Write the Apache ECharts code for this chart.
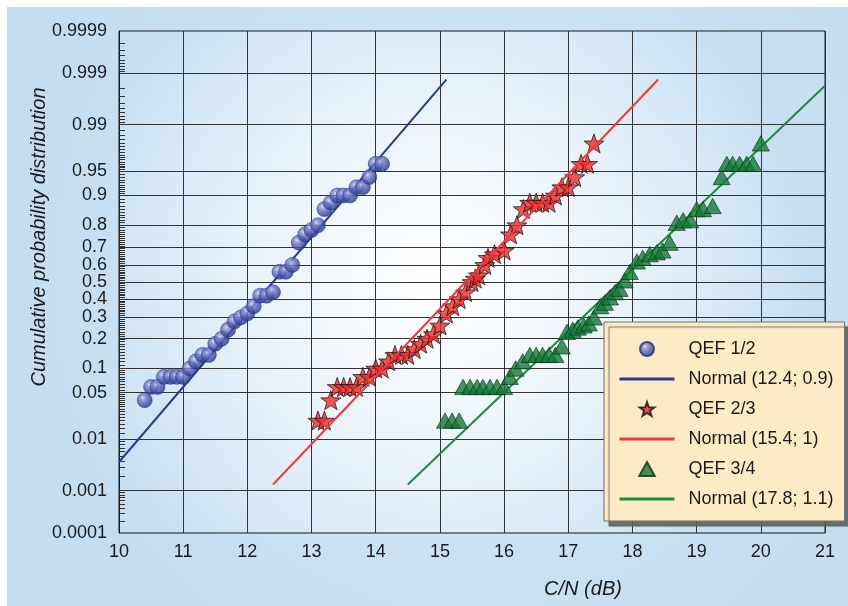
<!DOCTYPE html>
<html>
<head>
<meta charset="utf-8">
<script src="https://cdn.jsdelivr.net/npm/echarts@6/dist/echarts.min.js"></script>
<style>
html, body { margin: 0; padding: 0; background: #fff; }
#chart { width: 848px; height: 606px; }
</style>
</head>
<body>
<div id="chart"></div>
<script>
// y tick marks (probabilities) and their labels
var probTicks = [0.0001, 0.001, 0.01, 0.05, 0.1, 0.2, 0.3, 0.4, 0.5, 0.6, 0.7, 0.8, 0.9, 0.95, 0.99, 0.999, 0.9999];
var probLabels = ['0.0001', '0.001', '0.01', '0.05', '0.1', '0.2', '0.3', '0.4', '0.5', '0.6', '0.7', '0.8', '0.9', '0.95', '0.99', '0.999', '0.9999'];
var cnTicks = [10, 11, 12, 13, 14, 15, 16, 17, 18, 19, 20, 21];

// measured points: C/N (dB) and cumulative probability
var qef12CN = [10.4, 10.5, 10.6, 10.7, 10.8, 10.9, 11.0, 11.1, 11.2, 11.3, 11.4, 11.5, 11.6, 11.7, 11.8, 11.9, 12.0, 12.1, 12.2, 12.3, 12.4, 12.5, 12.6, 12.7, 12.8, 12.9, 13.0, 13.1, 13.2, 13.3, 13.4, 13.5, 13.6, 13.7, 13.8, 13.9, 14.0, 14.1];
var qef12Prob = [0.04, 0.06, 0.06, 0.08, 0.08, 0.08, 0.08, 0.10, 0.12, 0.14, 0.14, 0.18, 0.20, 0.24, 0.28, 0.30, 0.32, 0.36, 0.42, 0.42, 0.44, 0.56, 0.56, 0.60, 0.72, 0.76, 0.78, 0.80, 0.86, 0.88, 0.90, 0.90, 0.90, 0.92, 0.92, 0.94, 0.96, 0.96];

var qef23CN = [13.1, 13.2, 13.3, 13.4, 13.5, 13.6, 13.7, 13.8, 13.9, 14.0, 14.1, 14.2, 14.3, 14.4, 14.5, 14.6, 14.7, 14.8, 14.9, 15.0, 15.1, 15.2, 15.3, 15.4, 15.5, 15.55, 15.6, 15.7, 15.75, 15.85, 16.0, 16.1, 16.2, 16.3, 16.4, 16.5, 16.6, 16.7, 16.8, 16.9, 17.0, 17.1, 17.2, 17.3, 17.4];
var qef23Prob = [0.02, 0.02, 0.04, 0.06, 0.06, 0.06, 0.06, 0.08, 0.08, 0.10, 0.10, 0.12, 0.14, 0.14, 0.14, 0.16, 0.18, 0.20, 0.22, 0.26, 0.32, 0.36, 0.40, 0.44, 0.50, 0.52, 0.54, 0.60, 0.64, 0.66, 0.68, 0.76, 0.80, 0.86, 0.88, 0.88, 0.88, 0.88, 0.90, 0.92, 0.92, 0.94, 0.96, 0.96, 0.98];

var qef34CN = [15.08, 15.19, 15.3, 15.36, 15.47, 15.58, 15.67, 15.78, 15.89, 16.0, 16.09, 16.18, 16.29, 16.4, 16.5, 16.6, 16.7, 16.8, 16.9, 16.98, 17.07, 17.15, 17.24, 17.32, 17.4, 17.5, 17.57, 17.65, 17.73, 17.8, 17.88, 17.96, 18.07, 18.16, 18.27, 18.38, 18.47, 18.58, 18.69, 18.79, 18.9, 19.0, 19.1, 19.25, 19.39, 19.47, 19.56, 19.67, 19.78, 19.88, 20.0];
var qef34Prob = [0.02, 0.02, 0.02, 0.06, 0.06, 0.06, 0.06, 0.06, 0.06, 0.06, 0.08, 0.10, 0.12, 0.14, 0.14, 0.14, 0.14, 0.14, 0.17, 0.23, 0.24, 0.25, 0.26, 0.27, 0.30, 0.36, 0.38, 0.41, 0.44, 0.46, 0.51, 0.56, 0.62, 0.64, 0.66, 0.67, 0.68, 0.72, 0.81, 0.82, 0.82, 0.86, 0.86, 0.87, 0.94, 0.96, 0.96, 0.96, 0.96, 0.96, 0.98];

// fitted normal distributions
var fitNames = ['Normal (12.4; 0.9)', 'Normal (15.4; 1)', 'Normal (17.8; 1.1)'];
var fitMeans = [12.4, 15.4, 17.8];
var fitSigmas = [0.9, 1, 1.1];
var fitColors = ['#2a3a8e', '#f03a3a', '#1d8a3f'];

/**
 * inverse normal cdf (Acklam), probability -> z
 */
function probit(p) {
    var a = [-3.969683028665376e+01, 2.209460984245205e+02, -2.759285104469687e+02, 1.383577518672690e+02, -3.066479806614716e+01, 2.506628277459239e+00];
    var b = [-5.447609879822406e+01, 1.615858368580409e+02, -1.556989798598866e+02, 6.680131188771972e+01, -1.328068155288572e+01];
    var c = [-7.784894002430293e-03, -3.223964580411365e-01, -2.400758277161838e+00, -2.549732539343734e+00, 4.374664141464968e+00, 2.938163982698783e+00];
    var d = [7.784695709041462e-03, 3.224671290700398e-01, 2.445134137142996e+00, 3.754408661907416e+00];
    var pl = 0.02425, q, r;
    if (p < pl) {
        q = Math.sqrt(-2 * Math.log(p));
        return (((((c[0] * q + c[1]) * q + c[2]) * q + c[3]) * q + c[4]) * q + c[5]) / ((((d[0] * q + d[1]) * q + d[2]) * q + d[3]) * q + 1);
    }
    if (p <= 1 - pl) {
        q = p - 0.5;
        r = q * q;
        return (((((a[0] * r + a[1]) * r + a[2]) * r + a[3]) * r + a[4]) * r + a[5]) * q / (((((b[0] * r + b[1]) * r + b[2]) * r + b[3]) * r + b[4]) * r + 1);
    }
    q = Math.sqrt(-2 * Math.log(1 - p));
    return -(((((c[0] * q + c[1]) * q + c[2]) * q + c[3]) * q + c[4]) * q + c[5]) / ((((d[0] * q + d[1]) * q + d[2]) * q + d[3]) * q + 1);
}

function toPoints(xs, ps) {
    return xs.map(function (x, i) { return [x, probit(ps[i])]; });
}

// fitted line from mean-3s to mean+3s, clipped to x range
function fitLine(k) {
    var x1 = Math.max(cnTicks[0], fitMeans[k] - 3 * fitSigmas[k]);
    var x2 = Math.min(cnTicks[cnTicks.length - 1], fitMeans[k] + 3 * fitSigmas[k]);
    return [[x1, (x1 - fitMeans[k]) / fitSigmas[k]], [x2, (x2 - fitMeans[k]) / fitSigmas[k]]];
}

// small ticks on the probability axis
var minorProbs = [];
[[0.0001, 0.0001, 0.001], [0.001, 0.001, 0.01], [0.01, 0.0025, 0.05], [0.05, 0.005, 0.1], [0.1, 0.01, 0.9],
 [0.9, 0.005, 0.95], [0.95, 0.0025, 0.99], [0.99, 0.001, 0.999], [0.999, 0.0001, 0.9999]].forEach(function (r) {
    for (var v = r[0] + r[1]; v < r[2] - r[1] / 2; v += r[1]) minorProbs.push(v);
});

var yMin = probit(probTicks[0]);
var yMax = probit(probTicks[probTicks.length - 1]);
var font = 'Liberation Sans, Arial, sans-serif';

var starPath = 'path://M0,-10L2.35,-3.24L9.51,-3.09L3.8,1.24L5.88,8.09L0,4.2L-5.88,8.09L-3.8,1.24L-9.51,-3.09L-2.35,-3.24Z';
var trianglePath = 'path://M0,-9L10,9L-10,9Z';

function legendLine(k) {
    return {name: fitNames[k], itemStyle: {opacity: 0}, lineStyle: {width: 3, color: fitColors[k]}};
}

var myChart = echarts.init(document.getElementById('chart'), null, {renderer: 'canvas'});

var option = {
    backgroundColor: '#ffffff',
    animation: false,
    graphic: [{
        type: 'rect',
        z: -100,
        shape: {x: 7, y: 7, width: 841, height: 599},
        style: {
            fill: {
                type: 'radial', x: 0.55, y: 0.45, r: 0.8,
                colorStops: [{offset: 0, color: '#d6e9f6'}, {offset: 1, color: '#c3dcef'}]
            }
        }
    }],
    grid: {
        left: 119, right: 23, top: 31, bottom: 73,
        show: true,
        borderColor: '#1a1a1a',
        borderWidth: 1,
        backgroundColor: {
            type: 'radial', x: 0.45, y: 0.5, r: 0.75,
            colorStops: [{offset: 0, color: '#ffffff'}, {offset: 0.55, color: '#e6f1f9'}, {offset: 1, color: '#c6def0'}]
        }
    },
    xAxis: {
        type: 'value',
        min: cnTicks[0],
        max: cnTicks[cnTicks.length - 1],
        interval: 1,
        name: 'C/N (dB)',
        nameLocation: 'middle',
        nameGap: 46,
        nameTextStyle: {fontFamily: font, fontSize: 20, fontStyle: 'italic', color: '#1a1a1a', padding: [0, 0, 0, 222]},
        axisLine: {lineStyle: {color: '#1a1a1a'}},
        axisTick: {show: false},
        axisLabel: {fontFamily: font, fontSize: 18, color: '#1a1a1a', margin: 10},
        splitLine: {show: true, lineStyle: {color: '#333', width: 1}}
    },
    yAxis: {
        type: 'value',
        min: yMin,
        max: yMax,
        name: 'Cumulative probability distribution',
        nameLocation: 'middle',
        nameGap: 70,
        nameMoveOverlap: false,
        nameTextStyle: {fontFamily: font, fontSize: 20, fontStyle: 'italic', color: '#1a1a1a', padding: [0, 0, 0, 90]},
        axisLine: {show: true, lineStyle: {color: '#1a1a1a'}},
        axisTick: {
            show: true, inside: true, length: 6,
            customValues: minorProbs.map(probit),
            lineStyle: {color: '#333'}
        },
        axisLabel: {
            fontFamily: font, fontSize: 18, color: '#1a1a1a', margin: 12,
            customValues: probTicks.map(probit),
            formatter: function (v) {
                var best = 0;
                for (var i = 0; i < probTicks.length; i++) {
                    if (Math.abs(probit(probTicks[i]) - v) < Math.abs(probit(probTicks[best]) - v)) best = i;
                }
                return probLabels[best];
            }
        },
        splitLine: {show: false}
    },
    legend: {
        orient: 'vertical',
        left: 604,
        top: 322,
        z: 10,
        padding: [18, 11, 13, 14],
        itemGap: 12,
        itemWidth: 55,
        itemHeight: 14,
        symbolKeepAspect: true,
        backgroundColor: '#fdebc5',
        borderColor: '#6f6f6f',
        borderWidth: 1,
        shadowColor: 'rgba(90,90,90,0.85)',
        shadowBlur: 1,
        shadowOffsetX: 5,
        shadowOffsetY: 5,
        textStyle: {fontFamily: font, fontSize: 18, color: '#1a1a1a', padding: [0, 0, 0, 9]},
        data: ['QEF 1/2', legendLine(0), 'QEF 2/3', legendLine(1), 'QEF 3/4', legendLine(2)]
    },
    series: [
        {
            // horizontal grid lines at the probability ticks
            name: 'grid',
            type: 'line',
            data: [],
            z: 1,
            silent: true,
            markLine: {
                z: 1,
                silent: true,
                symbol: 'none',
                label: {show: false},
                lineStyle: {color: '#333', width: 1, type: 'solid'},
                data: probTicks.slice(1, -1).map(function (p) { return {yAxis: probit(p)}; })
            }
        },
        {
            name: fitNames[0],
            type: 'line',
            data: fitLine(0),
            symbol: 'none',
            z: 3,
            lineStyle: {color: fitColors[0], width: 2},
            itemStyle: {color: fitColors[0]}
        },
        {
            name: 'QEF 1/2',
            type: 'scatter',
            data: toPoints(qef12CN, qef12Prob),
            symbol: 'circle',
            symbolSize: 15,
            z: 4,
            itemStyle: {
                color: {
                    type: 'radial', x: 0.38, y: 0.35, r: 0.7,
                    colorStops: [{offset: 0, color: '#d8dcf4'}, {offset: 0.2, color: '#8a93d4'}, {offset: 0.55, color: '#4f5bb0'}, {offset: 1, color: '#223080'}]
                },
                borderColor: '#223080',
                borderWidth: 0.6
            }
        },
        {
            name: 'QEF 2/3',
            type: 'scatter',
            data: toPoints(qef23CN, qef23Prob),
            symbol: starPath,
            symbolSize: 20,
            symbolKeepAspect: true,
            z: 4,
            itemStyle: {color: '#ee2a2a', borderColor: '#111', borderWidth: 0.9}
        },
        {
            name: fitNames[1],
            type: 'line',
            data: fitLine(1),
            symbol: 'none',
            z: 5,
            lineStyle: {color: fitColors[1], width: 2},
            itemStyle: {color: fitColors[1]}
        },
        {
            name: fitNames[2],
            type: 'line',
            data: fitLine(2),
            symbol: 'none',
            z: 3,
            lineStyle: {color: fitColors[2], width: 2},
            itemStyle: {color: fitColors[2]}
        },
        {
            name: 'QEF 3/4',
            type: 'scatter',
            data: toPoints(qef34CN, qef34Prob),
            symbol: trianglePath,
            symbolSize: 17,
            symbolKeepAspect: true,
            z: 4,
            itemStyle: {color: '#137a34', borderColor: '#0b2e15', borderWidth: 0.8}
        }
    ]
};

myChart.setOption(option);
</script>
</body>
</html>
